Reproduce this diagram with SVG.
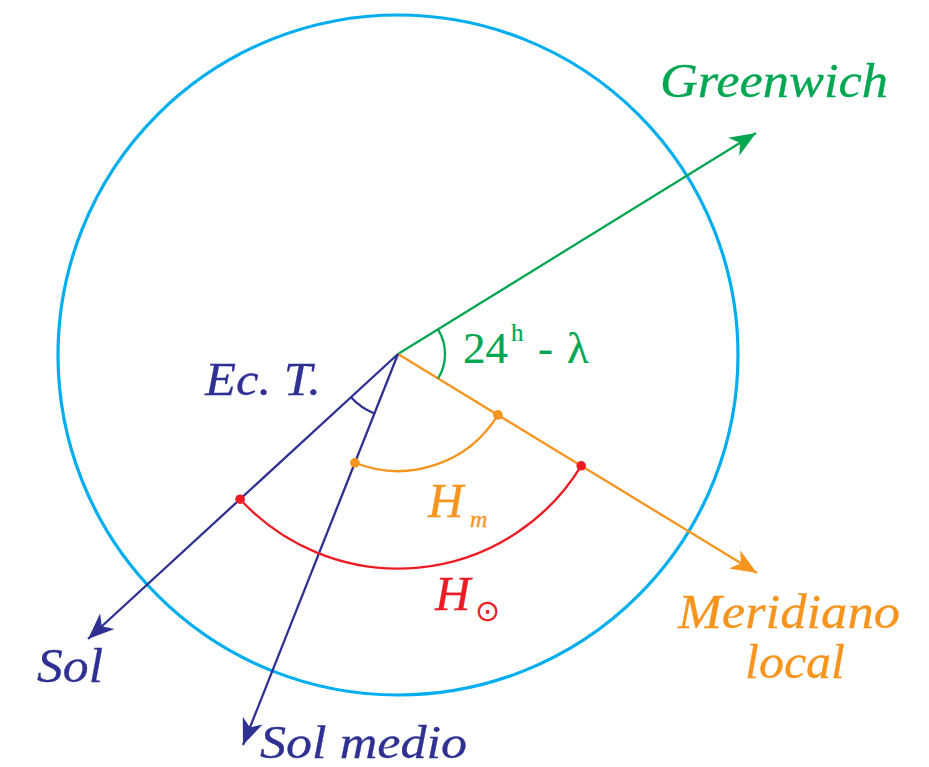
<svg xmlns="http://www.w3.org/2000/svg" width="929" height="767" viewBox="0 0 929 767">
<style>
.it{font-family:"Liberation Serif","Times New Roman",serif;font-style:italic;stroke-width:0.3}
.up{font-family:"Liberation Serif","Times New Roman",serif;stroke-width:0.2}
.g{fill:#00A651;stroke:#00A651}.o{fill:#F7941D;stroke:#F7941D}.n{fill:#2E3192;stroke:#2E3192}.r{fill:#ED1C24;stroke:#ED1C24}
.ln{fill:none;stroke-width:2.3}
</style>
<defs>
<marker id="ag" markerUnits="userSpaceOnUse" markerWidth="30" markerHeight="30" viewBox="-22 -10 24 20" refX="0" refY="0" orient="auto"><path d="M0,0 L-21,-8.5 L-15,0 L-21,8.5 Z" fill="#00A651"/></marker>
<marker id="ao" markerUnits="userSpaceOnUse" markerWidth="30" markerHeight="30" viewBox="-22 -10 24 20" refX="0" refY="0" orient="auto"><path d="M0,0 L-21,-8.5 L-15,0 L-21,8.5 Z" fill="#F7941D"/></marker>
<marker id="an" markerUnits="userSpaceOnUse" markerWidth="30" markerHeight="30" viewBox="-22 -10 24 20" refX="0" refY="0" orient="auto"><path d="M0,0 L-21,-8.5 L-15,0 L-21,8.5 Z" fill="#2E3192"/></marker>
</defs>
<rect width="929" height="767" fill="#fff"/>
<g id="circle"><circle cx="398" cy="355" r="340" fill="none" stroke="#00AEEF" stroke-width="3.2"/></g>
<g id="connectors">
<line id="greenwich-line" class="ln" x1="398" y1="354" x2="756" y2="133" stroke="#00A651" marker-end="url(#ag)"/>
<line id="meridiano-line" class="ln" x1="398" y1="354" x2="757" y2="573" stroke="#F7941D" marker-end="url(#ao)"/>
<line id="sol-line" class="ln" x1="398" y1="354" x2="88" y2="639" stroke="#2E3192" marker-end="url(#an)"/>
<line id="solmedio-line" class="ln" x1="398" y1="354" x2="243" y2="745" stroke="#2E3192" marker-end="url(#an)"/>
</g>
<g id="angle-lambda"><path class="ln" stroke="#00A651" d="M438,329.3 A47,47 0 0 1 438.1,378.5"/></g>
<g id="angle-ect"><path class="ln" stroke="#2E3192" d="M374.4,413.5 A64,64 0 0 1 350.9,397.3"/></g>
<g id="angle-hm"><path class="ln" stroke="#F7941D" d="M497.9,414.9 A117,117 0 0 1 354.9,462.8"/>
<circle cx="497.9" cy="414.9" r="4.8" fill="#F7941D"/><circle cx="354.9" cy="462.8" r="4.8" fill="#F7941D"/></g>
<g id="angle-hsun"><path class="ln" stroke="#ED1C24" d="M581.2,465.8 A214.5,214.5 0 0 1 240.1,499.2"/>
<circle cx="581.2" cy="465.8" r="4.8" fill="#ED1C24"/><circle cx="240.1" cy="499.2" r="4.8" fill="#ED1C24"/></g>
<g id="labels">
<text class="it g" x="660" y="97" font-size="48" textLength="228" lengthAdjust="spacingAndGlyphs">Greenwich</text>
<text class="up g" x="463" y="363" font-size="45">24</text>
<text class="up g" x="511" y="341" font-size="25">h</text>
<text class="up g" x="538" y="363" font-size="45">-</text>
<text class="up g" x="567" y="363" font-size="45">λ</text>
<text class="it n" x="205" y="395" font-size="47" textLength="116" lengthAdjust="spacingAndGlyphs">Ec. T.</text>
<text class="it o" x="428" y="517" font-size="49">H</text>
<text class="it o" x="470" y="527" font-size="24">m</text>
<text class="it r" x="435" y="610" font-size="49">H</text>
<text class="r" x="475" y="621" font-size="30" stroke-width="0" font-family="DejaVu Sans, sans-serif">⊙</text>
<text class="it n" x="37" y="682" font-size="48" textLength="66" lengthAdjust="spacingAndGlyphs">Sol</text>
<text class="it n" x="260" y="758" font-size="46" textLength="207" lengthAdjust="spacingAndGlyphs">Sol medio</text>
<text class="it o" x="678" y="628" font-size="48" textLength="222" lengthAdjust="spacingAndGlyphs">Meridiano</text>
<text class="it o" x="745" y="678" font-size="48" textLength="100" lengthAdjust="spacingAndGlyphs">local</text>
</g>
</svg>
